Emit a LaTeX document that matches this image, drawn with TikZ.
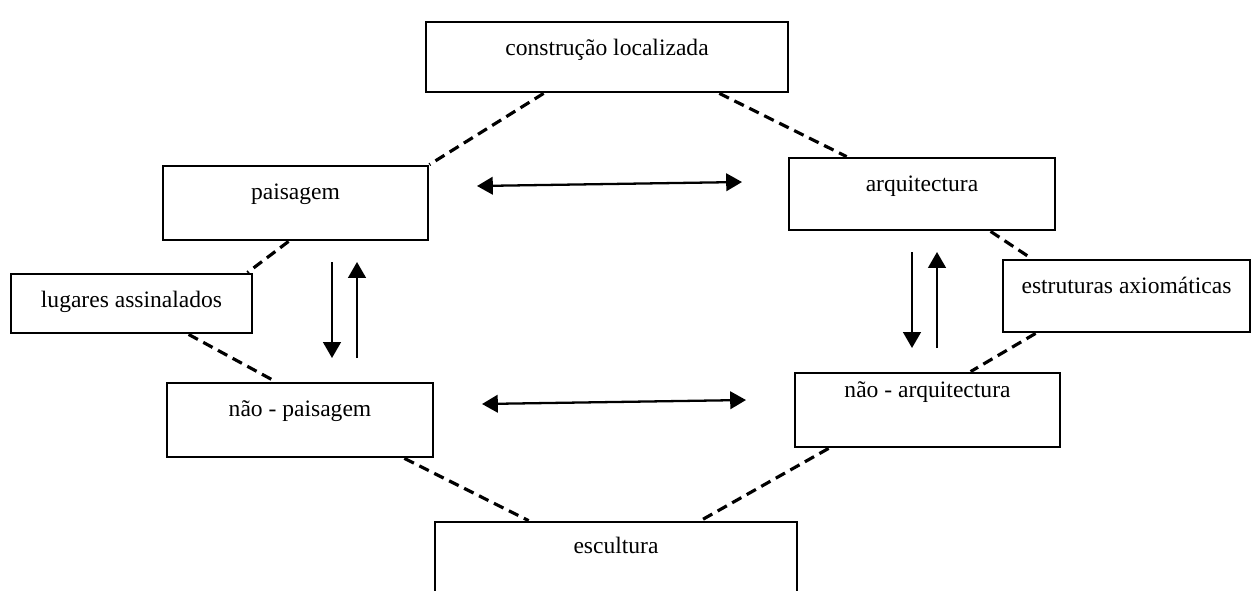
\documentclass[tikz,border=0pt]{standalone}
\usepackage{fontspec}
\setmainfont{Liberation Serif}
\usetikzlibrary{arrows.meta}

\tikzset{
  caixa/.style={draw, line width=1.6pt, inner sep=0pt, text height=0.66cm,
    font=\fontsize{13.4}{16}\selectfont},
  ligacao/.style={line width=1.8pt, dash pattern=on 6pt off 3.5pt},
}

\begin{document}
\begin{tikzpicture}[>={Triangle[length=9pt,width=10pt]}, line width=1.3pt]
      %\draw [help lines] (0,0) grid (25,-12);
      \clip (0,0) rectangle (25.14,-11.8);
      \node[caixa, minimum width=7.24cm, text depth=0.74cm] (construcao) at (12.14,-1.14) {construção localizada};
      \node[caixa, minimum width=5.30cm, text depth=0.82cm] (paisagem) at (5.91,-4.06) {paisagem};
      \node[caixa, minimum width=5.32cm, text depth=0.78cm] (arquitectura) at (18.44,-3.88) {arquitectura};
      \node[caixa, minimum width=4.82cm, text depth=0.52cm] (lugares) at (2.63,-6.07) {lugares assinalados};
      \node[caixa, minimum width=4.94cm, text depth=0.78cm] (estruturas) at (22.53,-5.92) {estruturas axiomáticas};
      \node[caixa, minimum width=5.32cm, text depth=0.82cm] (naopaisagem) at (6.00,-8.40) {não - paisagem};
      \node[caixa, minimum width=5.30cm, text height=0.48cm, text depth=1.00cm] (naoarquitectura) at (18.55,-8.20) {não - arquitectura};
      \node[caixa, minimum width=7.24cm, text height=0.62cm, text depth=0.94cm] (escultura) at (12.32,-11.22) {escultura};

      \coordinate (hcima1) at (9.54,-3.72);
      \coordinate (hcima2) at (14.84,-3.64);
      \coordinate (hbaixo1) at (9.64,-8.08);
      \coordinate (hbaixo2) at (14.92,-8.00);
      \coordinate (esqa) at (6.64,-5.24);
      \coordinate (esqb) at (6.64,-7.16);
      \coordinate (esqc) at (7.14,-7.16);
      \coordinate (esqd) at (7.14,-5.24);
      \coordinate (dira) at (18.24,-5.04);
      \coordinate (dirb) at (18.24,-6.96);
      \coordinate (dirc) at (18.74,-6.96);
      \coordinate (dird) at (18.74,-5.04);

      \draw[<->] (hcima1) to (hcima2);
      \draw[<->] (hbaixo1) to (hbaixo2);
      \draw[->] (esqa) to (esqb);
      \draw[->] (esqc) to (esqd);
      \draw[->] (dira) to (dirb);
      \draw[->] (dirc) to (dird);

      \draw[ligacao] ([xshift=2.38cm]construcao.south west) to (paisagem.north east);
      \draw[ligacao] ([xshift=-1.40cm]construcao.south east) to ([xshift=1.18cm]arquitectura.north west);
      \draw[ligacao] ([xshift=2.54cm]paisagem.south west) to ([xshift=-0.12cm]lugares.north east);
      \draw[ligacao] ([xshift=3.58cm]lugares.south west) to ([xshift=2.20cm]naopaisagem.north west);
      \draw[ligacao] ([xshift=4.06cm]arquitectura.south west) to ([xshift=0.60cm]estruturas.north west);
      \draw[ligacao] ([xshift=0.68cm]estruturas.south west) to ([xshift=3.54cm]naoarquitectura.north west);
      \draw[ligacao] ([xshift=-0.60cm]naopaisagem.south east) to ([xshift=1.90cm]escultura.north west);
      \draw[ligacao] ([xshift=0.70cm]naoarquitectura.south west) to ([xshift=5.34cm]escultura.north west);
    \end{tikzpicture}
\end{document}
